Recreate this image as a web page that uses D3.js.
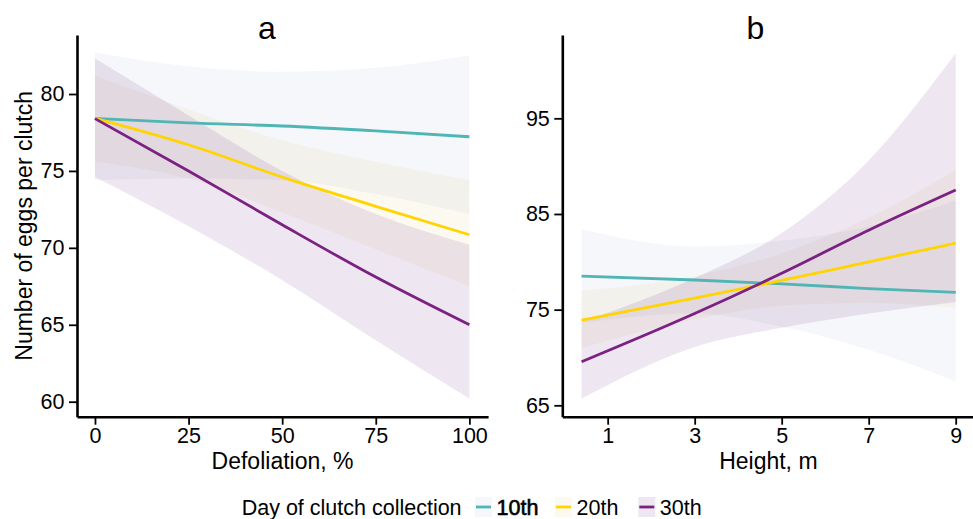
<!DOCTYPE html>
<html><head><meta charset="utf-8">
<script src="https://cdn.jsdelivr.net/npm/d3@7"></script>
<style>
body{margin:0;background:#fff}
svg{display:block}
text{font-family:"Liberation Sans",Arial,Helvetica,sans-serif;fill:#000}
</style>
</head><body>
<svg id="c" width="973" height="519"></svg>
<script>
// ---------- data ----------
const groups = ["10th", "20th", "30th"];
const lineColors = ["#4fb5b5", "#ffd400", "#7a2182"];
const fillColors = ["#375f9b", "#cd9b16", "#712f8a"];
const fillOpacity = [0.05, 0.06, 0.12];

// panel a : defoliation
const defolX = [0, 25, 50, 75, 100];
const aFit10 = [78.42, 78.12, 77.92, 77.6, 77.22];
const aLow10 = [74.4, 74.5, 74.4, 73.5, 72.2];
const aUp10  = [82.7, 81.8, 81.45, 81.7, 82.5];
const aFit20 = [78.42, 76.7, 74.6, 72.7, 70.85];
const aLow20 = [75.6, 74.5, 72.3, 69.9, 67.5];
const aUp20  = [81.2, 79.0, 77.0, 75.6, 74.4];
const aFit30 = [78.4, 75.0, 71.5, 68.1, 65.0];
const aLow30 = [74.6, 71.4, 67.9, 64.0, 60.2];
const aUp30  = [82.3, 78.6, 75.0, 72.2, 70.2];

// panel b : height
const heightX = [0.4, 3, 5, 7, 9];
const bFit10 = [78.5, 78.1, 77.7, 77.2, 76.8];
const bLow10 = [73.6, 74.6, 73.2, 70.8, 67.5];
const bUp10  = [83.4, 81.6, 82.2, 83.7, 86.4];
const bFit20 = [73.9, 76.2, 78.05, 80.0, 81.95];
const bLow20 = [71.0, 74.0, 75.4, 75.7, 75.2];
const bUp20  = [77.0, 78.5, 80.9, 84.6, 89.6];
const bFit30 = [69.56, 74.6, 78.8, 83.3, 87.5];
const bLow30 = [65.7, 71.1, 73.1, 74.6, 75.8];
const bUp30  = [73.7, 78.3, 83.0, 90.6, 101.8];

const aTicksX = [0, 25, 50, 75, 100];
const aTicksY = [60, 65, 70, 75, 80];
const bTicksX = [1, 3, 5, 7, 9];
const bTicksY = [65, 75, 85, 95];

const panelTitles = ["a", "b"];
const xTitles = ["Defoliation, %", "Height, m"];
const yTitle = "Number of eggs per clutch";
const legendTitle = "Day of clutch collection";

// ---------- layout ----------
const svg = d3.select("#c");
const plotTop = 35, plotBottom = 416.7;

const panels = [
  {
    x: d3.scaleLinear().domain([-4.8, 105]).range([77, 488.1]),
    y: d3.scaleLinear().domain([59.025, 83.835]).range([plotBottom, plotTop]),
    xs: defolX,
    fit: [aFit10, aFit20, aFit30], low: [aLow10, aLow20, aLow30], up: [aUp10, aUp20, aUp30],
    tx: aTicksX, ty: aTicksY, titleX: 267
  },
  {
    x: d3.scaleLinear().domain([-0.043, 9.43]).range([562.3, 974.4]),
    y: d3.scaleLinear().domain([63.81, 103.71]).range([plotBottom, plotTop]),
    xs: heightX,
    fit: [bFit10, bFit20, bFit30], low: [bLow10, bLow20, bLow30], up: [bUp10, bUp20, bUp30],
    tx: bTicksX, ty: bTicksY, titleX: 755.5
  }
];

panels.forEach((p, pi) => {
  const g = svg.append("g");
  // ribbons
  groups.forEach((grp, gi) => {
    const pts = p.xs.map((xv, i) => ({x: xv, lo: p.low[gi][i], hi: p.up[gi][i]}));
    const area = d3.area().x(d => p.x(d.x)).y0(d => p.y(d.lo)).y1(d => p.y(d.hi)).curve(d3.curveMonotoneX);
    g.append("path").attr("d", area(pts))
      .attr("fill", fillColors[gi]).attr("fill-opacity", fillOpacity[gi]).attr("stroke", "none");
  });
  // lines
  groups.forEach((grp, gi) => {
    const pts = p.xs.map((xv, i) => ({x: xv, v: p.fit[gi][i]}));
    const line = d3.line().x(d => p.x(d.x)).y(d => p.y(d.v)).curve(d3.curveMonotoneX);
    g.append("path").attr("d", line(pts))
      .attr("fill", "none").attr("stroke", lineColors[gi]).attr("stroke-width", 2.8);
  });
  // axes
  const xAxis = g.append("g").attr("transform", `translate(0,${plotBottom})`)
    .call(d3.axisBottom(p.x).tickValues(p.tx).tickSize(8).tickPadding(3.5).tickSizeOuter(0));
  const yAxis = g.append("g").attr("transform", `translate(${p.x.range()[0]},0)`)
    .call(d3.axisLeft(p.y).tickValues(p.ty).tickSize(8).tickPadding(4.5).tickSizeOuter(0));
  [xAxis, yAxis].forEach(ax => {
    ax.attr("font-size", null).attr("font-family", null);
    ax.select(".domain").attr("stroke", "#000").attr("stroke-width", 2.6);
    ax.selectAll(".tick line").attr("stroke", "#000").attr("stroke-width", 1.8);
    ax.selectAll(".tick text").style("font-size", "21.5px").attr("fill", "#000");
  });
  // titles
  svg.append("text").attr("x", p.titleX).attr("y", 39).attr("text-anchor", "middle")
    .style("font-size", "32px").text(panelTitles[pi]);
  const r = p.x.range();
  svg.append("text").attr("x", (r[0] + r[1]) / 2).attr("y", 469).attr("text-anchor", "middle")
    .style("font-size", "23px").text(xTitles[pi]);
});

// y title
svg.append("text").attr("transform", `translate(31.5,${(plotTop + plotBottom) / 2}) rotate(-90)`)
  .attr("text-anchor", "middle").style("font-size", "23px").text(yTitle);

// legend
const lg = svg.append("g");
lg.append("text").attr("x", 241.7).attr("y", 515).style("font-size", "21.5px").text(legendTitle);
const keyX = [475, 555, 638.3];
groups.forEach((grp, gi) => {
  lg.append("rect").attr("x", keyX[gi]).attr("y", 497).attr("width", 17).attr("height", 20)
    .attr("fill", fillColors[gi]).attr("fill-opacity", fillOpacity[gi]);
  lg.append("line").attr("x1", keyX[gi] + 1).attr("x2", keyX[gi] + 16).attr("y1", 507).attr("y2", 507)
    .attr("stroke", lineColors[gi]).attr("stroke-width", 2.8);
  const t = lg.append("text").attr("x", keyX[gi] + 21.5).attr("y", 515).style("font-size", "21.5px").text(grp);
  if (gi === 0) t.attr("stroke", "#000").attr("stroke-width", 0.6);
});
</script>
</body></html>
